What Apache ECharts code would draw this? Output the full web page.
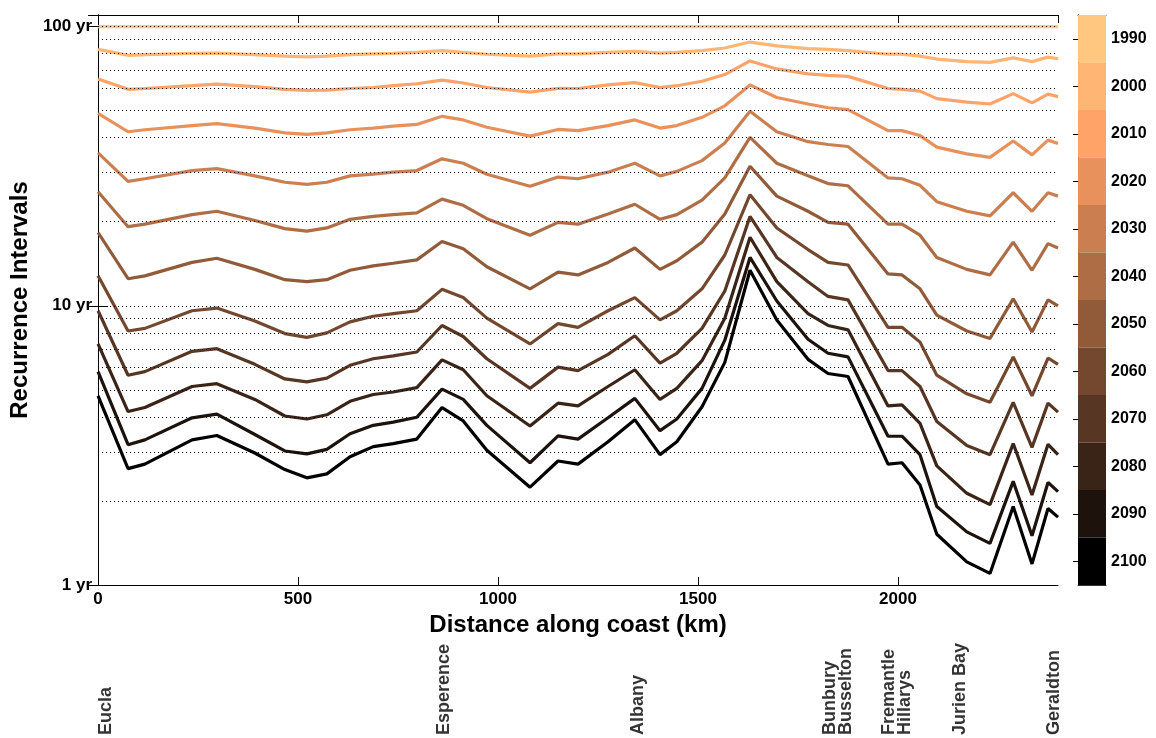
<!DOCTYPE html>
<html><head><meta charset="utf-8">
<script src="https://cdn.jsdelivr.net/npm/echarts@6/dist/echarts.min.js"></script>
<style>html,body{margin:0;padding:0;background:#fff}#c{width:1156px;height:738px}</style>
</head><body><div id="c"></div>
<script>
const years = ['1990','2000','2010','2020','2030','2040','2050','2060','2070','2080','2090','2100'];
const km = [0,75,117,235,297,392,467,522,572,630,688,738,797,860,913,972,1080,1150,1200,1275,1342,1405,1447,1510,1567,1630,1697,1775,1825,1875,1975,2010,2055,2097,2172,2230,2288,2335,2375,2400];
const y1990 = [100,100,100,100,100,100,100,100,100,100,100,100,100,100,100,100,100,100,100,100,100,100,100,100,100,100,100,100,100,100,100,100,100,100,100,100,100,100,100,100];
const y2000 = [82.8,78.9,79.3,80.1,80.3,79.3,78.4,77.9,78.4,79.3,79.8,80.1,80.8,82.0,80.8,79.6,78.4,79.8,79.8,80.8,81.5,80.3,80.8,82.0,83.8,88.0,85.3,83.3,82.8,82.0,79.6,79.6,78.4,76.5,74.9,74.4,77.2,74.9,77.7,76.7];
const y2010 = [64.9,59.6,60.0,61.4,62.2,60.9,59.6,59.1,59.2,60.0,60.5,61.4,62.4,64.3,62.8,60.5,58.2,60.1,60.0,61.8,63.0,60.5,61.4,63.7,67.3,75.3,70.5,67.7,66.9,66.3,60.0,59.6,58.7,55.2,53.6,52.8,57.5,53.3,57.3,56.1];
const y2020 = [48.9,42.0,42.7,44.2,44.9,43.3,41.6,41.1,41.6,42.7,43.3,44.0,44.6,47.7,46.3,43.6,40.5,42.8,42.4,44.2,46.3,43.3,44.2,47.3,52.0,61.8,55.7,52.8,51.2,50.4,42.4,42.4,40.7,37.0,35.0,34.0,38.9,34.7,39.2,38.1];
const y2030 = [35.3,27.9,28.5,30.5,31.0,29.2,27.7,27.2,27.7,29.2,29.6,30.1,30.5,33.6,32.4,29.6,26.8,28.9,28.5,30.1,32.4,29.2,30.3,33.1,38.3,49.7,42.0,38.7,37.8,37.2,28.7,28.5,27.0,23.6,21.8,21.0,25.4,21.8,25.4,24.7];
const y2040 = [25.6,19.2,19.6,21.2,21.8,20.2,18.9,18.5,19.0,20.4,20.9,21.2,21.5,24.1,22.9,20.5,17.9,19.9,19.6,21.3,23.1,20.4,21.2,23.9,28.7,40.1,32.4,29.2,27.4,26.9,19.6,19.6,17.9,14.9,13.5,12.9,16.9,13.4,16.7,16.1];
const y2050 = [18.3,12.5,12.8,14.3,14.8,13.5,12.4,12.2,12.4,13.4,13.9,14.2,14.6,17.0,16.0,13.8,11.5,13.2,12.9,14.3,16.1,13.5,14.5,16.9,21.3,31.6,24.7,21.8,19.9,19.6,13.0,12.9,11.5,9.26,8.12,7.64,10.6,8.05,10.5,10.0];
const y2060 = [12.8,8.12,8.30,9.60,9.81,8.82,7.95,7.71,8.0,8.76,9.17,9.37,9.60,11.45,10.7,9.03,7.30,8.63,8.37,9.60,10.7,8.90,9.60,11.5,15.2,25.0,19.0,15.9,14.3,14.0,8.37,8.37,7.41,5.64,4.84,4.51,6.56,4.76,6.50,6.17];
const y2070 = [9.60,5.64,5.81,6.87,7.02,6.17,5.47,5.34,5.51,6.12,6.46,6.62,6.83,8.50,7.76,6.46,5.06,6.03,5.86,6.70,7.81,6.23,6.76,8.30,11.3,20.9,14.9,12.2,10.8,10.5,5.86,5.86,5.14,3.85,3.16,2.93,4.51,3.11,4.48,4.16];
const y2080 = [7.30,4.18,4.32,5.14,5.26,4.62,4.03,3.93,4.07,4.55,4.81,4.91,5.09,6.40,5.90,4.76,3.71,4.48,4.38,5.14,5.90,4.62,5.06,6.36,9.03,17.6,12.2,9.37,8.50,8.20,4.38,4.42,3.79,2.67,2.13,1.94,3.21,2.10,3.19,2.93];
const y2090 = [5.81,3.18,3.31,3.97,4.09,3.46,3.02,2.95,3.06,3.48,3.73,3.83,3.99,5.03,4.62,3.73,2.74,3.42,3.33,3.97,4.66,3.57,3.93,5.06,7.53,14.9,10.4,7.59,6.76,6.56,3.41,3.41,2.93,1.91,1.55,1.41,2.35,1.50,2.33,2.16];
const y2100 = [4.76,2.61,2.71,3.31,3.43,2.97,2.59,2.42,2.50,2.88,3.13,3.21,3.33,4.32,3.87,3.04,2.24,2.78,2.71,3.26,3.91,2.93,3.26,4.35,6.27,13.4,8.90,6.43,5.72,5.58,2.71,2.74,2.28,1.52,1.21,1.10,1.91,1.19,1.88,1.75];
const seriesValues = [y1990,y2000,y2010,y2020,y2030,y2040,y2050,y2060,y2070,y2080,y2090,y2100];
const gridValues = [2,3,4,5,6,7,8,9,10,20,30,40,50,60,70,80,90,100];
const places = ['Eucla','Esperence','Albany','Bunbury\nBusselton','Fremantle\nHillarys','Jurien Bay','Geraldton'];
const placeKm = [20,865,1350,1850,1998,2155,2390];
const palette = ['#FFC77F','#FFB573','#FFA368','#E8915C','#CB7F51','#AE6D45','#915B3A','#74482E','#573623','#3A2417','#1D120C','#000000'];

const FONT = "'Liberation Sans', Arial, sans-serif";
const chart = echarts.init(document.getElementById('c'), null, {renderer:'canvas'});

const lineSeries = seriesValues.map((vals, i) => ({
  type: 'line', xAxisIndex: 0, yAxisIndex: 0,
  data: km.map((k, j) => [k, vals[j]]),
  showSymbol: false,
  lineStyle: {width: 3.2, color: palette[i]}
}));

const option = {
  backgroundColor: '#fff',
  animation: false,
  textStyle: {fontFamily: FONT},
  grid: [
    {left: 98, top: 15, width: 960, height: 570},
    {left: 1078, top: 15, width: 28, height: 570},
    {left: 98, top: 600, width: 960, bottom: 3}
  ],
  xAxis: [
    {type: 'value', gridIndex: 0, min: 0, max: 2400, interval: 500, position: 'bottom',
     axisLine: {show: true, lineStyle: {color: '#000', width: 1}},
     axisTick: {show: true, inside: true, length: 8, lineStyle: {color: '#000'}},
     axisLabel: {fontSize: 17, fontWeight: 'bold', color: '#000', margin: 6, showMaxLabel: false,
                 fontFamily: FONT, formatter: v => String(v)},
     splitLine: {show: false},
     name: 'Distance along coast (km)', nameLocation: 'middle', nameGap: 27,
     nameTextStyle: {fontSize: 24, fontWeight: 'bold', color: '#000', fontFamily: FONT}},
    {type: 'value', gridIndex: 0, min: 0, max: 2400, interval: 500, position: 'top',
     axisLine: {show: true, lineStyle: {color: '#000', width: 1}},
     axisTick: {show: true, inside: true, length: 8, lineStyle: {color: '#000'}},
     axisLabel: {show: false}, splitLine: {show: false}},
    {type: 'value', gridIndex: 1, min: 0, max: 1, position: 'bottom',
     axisLine: {show: true, lineStyle: {color: '#333'}}, axisTick: {show: false},
     axisLabel: {show: false}, splitLine: {show: false}},
    {type: 'value', gridIndex: 1, min: 0, max: 1, position: 'top',
     axisLine: {show: true, lineStyle: {color: '#333'}}, axisTick: {show: false},
     axisLabel: {show: false}, splitLine: {show: false}},
    {type: 'value', gridIndex: 2, min: 0, max: 2400, show: false}
  ],
  yAxis: [
    {type: 'log', gridIndex: 0, logBase: 10, min: 1, max: 110, position: 'left',
     axisLine: {show: true, lineStyle: {color: '#000', width: 1}},
     axisTick: {show: true, inside: true, length: 10, lineStyle: {color: '#000'}},
     axisLabel: {fontSize: 17, fontWeight: 'bold', color: '#000', margin: 6, showMaxLabel: false,
                 fontFamily: FONT, formatter: v => v + ' yr'},
     splitLine: {show: false}, minorTick: {show: false},
     name: 'Recurrence Intervals', nameLocation: 'middle', nameGap: 55, nameRotate: 90,
     nameTextStyle: {fontSize: 24, fontWeight: 'bold', color: '#000', fontFamily: FONT}},
    {type: 'log', gridIndex: 0, logBase: 10, min: 1, max: 110, position: 'right',
     axisLine: {show: true, lineStyle: {color: '#000', width: 1}},
     axisTick: {show: true, inside: true, length: 10, lineStyle: {color: '#000'}},
     axisLabel: {show: false}, splitLine: {show: false}},
    {type: 'category', gridIndex: 1, data: years, inverse: true, position: 'right',
     axisLine: {show: true, lineStyle: {color: '#333'}},
     axisTick: {show: true, inside: true, alignWithLabel: true, length: 5, lineStyle: {color: '#000'}},
     axisLabel: {fontSize: 16, fontWeight: 'bold', color: '#000', margin: 5, fontFamily: FONT},
     splitLine: {show: false}},
    {type: 'category', gridIndex: 1, data: years, inverse: true, position: 'left',
     axisLine: {show: true, lineStyle: {color: '#333'}},
     axisTick: {show: true, inside: true, alignWithLabel: true, length: 5, lineStyle: {color: '#000'}},
     axisLabel: {show: false}, splitLine: {show: false}},
    {type: 'value', gridIndex: 2, min: 0, max: 1, show: false}
  ],
  series: [
    ...lineSeries,
    {type: 'line', xAxisIndex: 0, yAxisIndex: 0, data: [], z: 5, silent: true,
     markLine: {silent: true, symbol: ['none', 'none'], label: {show: false},
       lineStyle: {color: '#000', width: 1, type: [1, 3]},
       data: gridValues.map(v => ({yAxis: v}))}},
    {type: 'bar', xAxisIndex: 2, yAxisIndex: 2, barCategoryGap: '0%', silent: true,
     data: palette.map(c => ({value: 1, itemStyle: {color: c}}))},
    {type: 'scatter', xAxisIndex: 4, yAxisIndex: 4, symbolSize: 0, silent: true,
     data: places.map((p, i) => ({name: p, value: [placeKm[i], 0]})),
     label: {show: true, position: 'inside', formatter: '{b}', rotate: 90, align: 'left',
       verticalAlign: 'middle', fontSize: 18, fontWeight: 'bold', color: '#000',
       lineHeight: 16, fontFamily: FONT}}
  ]
};
chart.setOption(option);
</script></body></html>
